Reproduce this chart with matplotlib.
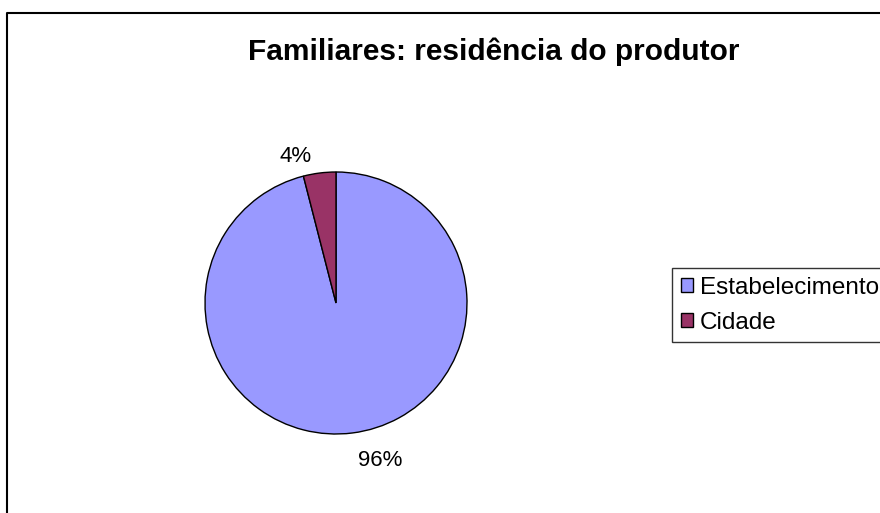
import matplotlib.pyplot as plt
from matplotlib.patches import Patch
from matplotlib.lines import Line2D

plt.rcParams['font.family'] = ['Liberation Sans', 'DejaVu Sans']

categories = ['Estabelecimento', 'Cidade']
values = [96, 4]
colors = ['#9999FF', '#993366']
title = 'Familiares: residência do produtor'

W, H = 880, 513
fig = plt.figure(figsize=(8.8, 5.13), dpi=100)

# chart area border (top and left edges only visible)
fig.lines.append(Line2D([7 / W, 7 / W, 1], [0, 1 - 12.5 / H, 1 - 12.5 / H],
                        transform=fig.transFigure, color='black', linewidth=1.5))

cx, cy, r = 336, 303, 131
ax = fig.add_axes([(cx - r) / W, (H - cy - r) / H, 2 * r / W, 2 * r / H])
wedges, texts, autotexts = ax.pie(values, colors=colors, startangle=90, counterclock=False,
                                  autopct='%d%%', pctdistance=1.2,
                                  wedgeprops=dict(edgecolor='black', linewidth=1.0),
                                  textprops=dict(fontsize=16))
autotexts[0].set_position((0.34, -1.2))
autotexts[1].set_position((-0.31, 1.12))
ax.set_xlim(-1, 1)
ax.set_ylim(-1, 1)
ax.set_aspect('equal')

fig.text(494 / W, 1 - 52 / H, title, ha='center', va='center', fontsize=21.5, fontweight='bold')

handles = [Patch(facecolor=c, edgecolor='black', linewidth=1.0) for c in colors]
leg = fig.legend(handles, categories, loc='upper left', bbox_to_anchor=(672 / W, 1 - 268 / H),
                 fontsize=17.5, frameon=True, fancybox=False, edgecolor='black',
                 handlelength=0.5, handleheight=0.5, handletextpad=0.3,
                 borderpad=0.35, labelspacing=0.55, borderaxespad=0)
leg.get_frame().set_linewidth(1.0)

fig.savefig('out.png', dpi=100)
